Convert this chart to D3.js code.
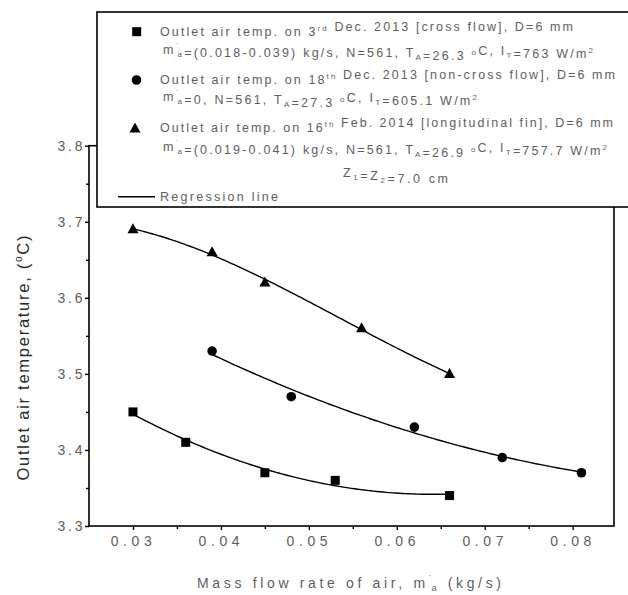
<!DOCTYPE html>
<html>
<head>
<meta charset="utf-8">
<script src="https://cdn.jsdelivr.net/npm/d3@7"></script>
<style>
  html, body { margin: 0; padding: 0; background: #fff; }
  svg { display: block; font-family: "Liberation Sans", Arial, sans-serif; }
</style>
</head>
<body>
<svg id="chart" width="628" height="595"></svg>
<script>
// ---- data ----
const crossX = [0.030, 0.036, 0.045, 0.053, 0.066];
const crossY = [3.45, 3.41, 3.37, 3.36, 3.34];
const nonCrossX = [0.039, 0.048, 0.062, 0.072, 0.081];
const nonCrossY = [3.53, 3.47, 3.43, 3.39, 3.37];
const finX = [0.030, 0.039, 0.045, 0.056, 0.066];
const finY = [3.69, 3.66, 3.62, 3.56, 3.50];
const xTicks = [0.03, 0.04, 0.05, 0.06, 0.07, 0.08];
const xMinorTicks = [0.035, 0.045, 0.055, 0.065, 0.075];
const yTicks = [3.3, 3.4, 3.5, 3.6, 3.7, 3.8];
const yMinorTicks = [3.35, 3.45, 3.55, 3.65, 3.75];
const xTickLabels = ["0.03", "0.04", "0.05", "0.06", "0.07", "0.08"];
const yTickLabels = ["3.3", "3.4", "3.5", "3.6", "3.7", "3.8"];

// ---- layout ----
const svg = d3.select("#chart");
const L = 89, R = 614, T = 145.7, B = 526;
const x = d3.scaleLinear().domain([0.025, 0.0847]).range([L, R]);
const y = d3.scaleLinear().domain([3.3, 3.8]).range([B, T]);
const labelColor = "#5e5e5e";
const FONT = "'Liberation Sans', Arial, sans-serif";

// stretch a text's letter-spacing so its visible width equals `width`
function fitWidth(sel, width) {
  const node = sel.node();
  sel.attr("letter-spacing", 0);
  const L0 = node.getComputedTextLength();
  const n = node.textContent.length;
  const s = n > 1 ? (width - L0) / (n - 1) : 0;
  sel.attr("letter-spacing", s.toFixed(3) + "px");
  return s;
}

// polynomial least squares fit
function polyfit(xs, ys, deg) {
  const mx = d3.mean(xs), sx = d3.deviation(xs);
  const u = xs.map(v => (v - mx) / sx);
  const n = deg + 1;
  const A = Array.from({length: n}, () => new Array(n + 1).fill(0));
  for (let k = 0; k < u.length; k++) {
    for (let i = 0; i < n; i++) {
      for (let j = 0; j < n; j++) A[i][j] += Math.pow(u[k], i + j);
      A[i][n] += ys[k] * Math.pow(u[k], i);
    }
  }
  for (let i = 0; i < n; i++) {
    let p = i;
    for (let r = i + 1; r < n; r++) if (Math.abs(A[r][i]) > Math.abs(A[p][i])) p = r;
    [A[i], A[p]] = [A[p], A[i]];
    for (let r = 0; r < n; r++) {
      if (r === i) continue;
      const f = A[r][i] / A[i][i];
      for (let c = i; c <= n; c++) A[r][c] -= f * A[i][c];
    }
  }
  const coef = A.map((row, i) => row[n] / row[i]);
  return v => { const t = (v - mx) / sx; return coef.reduce((s, c, i) => s + c * Math.pow(t, i), 0); };
}

const series = [
  {xs: crossX, ys: crossY, deg: 2, shape: "square"},
  {xs: nonCrossX, ys: nonCrossY, deg: 2, shape: "circle"},
  {xs: finX, ys: finY, deg: 3, shape: "triangle"}
];

const line = d3.line().x(d => x(d[0])).y(d => y(d[1]));

series.forEach(s => {
  const f = polyfit(s.xs, s.ys, s.deg);
  const x0 = d3.min(s.xs), x1 = d3.max(s.xs);
  const pts = d3.range(0, 101).map(i => { const v = x0 + (x1 - x0) * i / 100; return [v, f(v)]; });
  svg.append("path").attr("d", line(pts)).attr("fill", "none").attr("stroke", "#000").attr("stroke-width", 1.4);
});

function marker(g, shape, cx, cy) {
  if (shape === "square") {
    g.append("rect").attr("x", cx - 4.5).attr("y", cy - 4.5).attr("width", 9).attr("height", 9).attr("fill", "#000");
  } else if (shape === "circle") {
    g.append("circle").attr("cx", cx).attr("cy", cy).attr("r", 4.8).attr("fill", "#000");
  } else {
    g.append("path").attr("d", `M${cx},${cy - 6}L${cx + 5.5},${cy + 4}L${cx - 5.5},${cy + 4}Z`).attr("fill", "#000");
  }
}

series.forEach(s => {
  s.xs.forEach((v, i) => marker(svg, s.shape, x(v), y(s.ys[i])));
});

// ---- axes / frame ----
svg.append("rect").attr("x", L).attr("y", T).attr("width", R - L).attr("height", B - T)
  .attr("fill", "none").attr("stroke", "#000").attr("stroke-width", 1.6);

const xAxis = d3.axisBottom(x).tickValues(xTicks).tickSize(4).tickFormat((d, i) => xTickLabels[i]);
const gx = svg.append("g").attr("transform", `translate(0,${B})`).call(xAxis);
gx.select(".domain").remove();
gx.selectAll(".tick line").attr("stroke", "#000").attr("stroke-width", 1.4);
gx.selectAll(".tick text").attr("fill", labelColor).attr("font-size", 14).attr("letter-spacing", "4.6px")
  .attr("dy", "0.71em").attr("y", 10).style("font-family", FONT);
const xMinor = d3.axisBottom(x).tickValues(xMinorTicks).tickSize(3).tickFormat("");
const gxm = svg.append("g").attr("transform", `translate(0,${B})`).call(xMinor);
gxm.select(".domain").remove();
gxm.selectAll(".tick line").attr("stroke", "#000").attr("stroke-width", 1.4);

const yAxis = d3.axisLeft(y).tickValues(yTicks).tickSize(4).tickFormat((d, i) => yTickLabels[i]);
const gy = svg.append("g").attr("transform", `translate(${L},0)`).call(yAxis);
gy.select(".domain").remove();
gy.selectAll(".tick line").attr("stroke", "#000").attr("stroke-width", 1.4);
gy.selectAll(".tick text").attr("fill", labelColor).attr("font-size", 14).attr("letter-spacing", "2.8px")
  .attr("x", -3.7).style("font-family", FONT);
const yMinor = d3.axisLeft(y).tickValues(yMinorTicks).tickSize(3).tickFormat("");
const gym = svg.append("g").attr("transform", `translate(${L},0)`).call(yMinor);
gym.select(".domain").remove();
gym.selectAll(".tick line").attr("stroke", "#000").attr("stroke-width", 1.4);

// ---- axis titles ----
const xt = svg.append("text").attr("x", 197).attr("y", 588)
  .attr("fill", labelColor).attr("font-size", 14);
xt.append("tspan").text("Mass flow rate of air, m");
xt.append("tspan").attr("font-size", 9).attr("dy", -6).text("˙");
xt.append("tspan").attr("font-size", 9).attr("dy", 9).attr("dx", -4).text("a");
xt.append("tspan").attr("dy", -3).text(" (kg/s)");
fitWidth(xt, 308);

const ytLen = 245, ytCenter = 358;
const yt = svg.append("text").attr("transform", `translate(29,${ytCenter + ytLen / 2}) rotate(-90)`)
  .attr("fill", "#2a2a2a").attr("font-size", 16.5);
yt.append("tspan").text("Outlet air temperature, (");
yt.append("tspan").attr("font-size", 10).attr("dy", -7).text("o");
yt.append("tspan").attr("dy", 7).text("C)");
fitWidth(yt, ytLen);

// ---- legend ----
const lg = svg.append("g");
lg.append("rect").attr("x", 97).attr("y", 12).attr("width", 560).attr("height", 195)
  .attr("fill", "#fff").attr("stroke", "#000").attr("stroke-width", 1.6);

const fs = 12.5;
function lt(xp, yp) {
  return lg.append("text").attr("x", xp).attr("y", yp).attr("fill", labelColor).attr("font-size", fs);
}
function sup(t, s) { t.append("tspan").attr("font-size", 8).attr("dy", -5).text(s); t.append("tspan").attr("dy", 5).text(""); }
function sub(t, s) { t.append("tspan").attr("font-size", 8).attr("dy", 3).text(s); t.append("tspan").attr("dy", -3).text(""); }
function mdot(t) {
  t.append("tspan").text("m");
  t.append("tspan").attr("font-size", 8).attr("dy", -5).text("˙");
  t.append("tspan").attr("font-size", 8).attr("dy", 8).attr("dx", -3).text("a");
  t.append("tspan").attr("dy", -3).text("");
}
function rest(t, parts) {
  parts.forEach(p => {
    if (typeof p === "string") t.append("tspan").text(p);
    else if (p.sup) sup(t, p.sup);
    else if (p.sub) sub(t, p.sub);
  });
}

marker(lg, "square", 136.7, 31.7);
let t1 = lt(160, 36); rest(t1, ["Outlet air temp. on 3", {sup: "rd"}, " Dec. 2013 [cross flow], D=6 mm"]);
fitWidth(t1, 573 - 160);
let t2 = lt(163, 54); mdot(t2); rest(t2, ["=(0.018-0.039) kg/s, N=561, T", {sub: "A"}, "=26.3 ", {sup: "o"}, "C, I", {sub: "T"}, "=763 W/m", {sup: "2"}]);
fitWidth(t2, 596 - 163);

marker(lg, "circle", 136.5, 80);
let t3 = lt(160, 84); rest(t3, ["Outlet air temp. on 18", {sup: "th"}, " Dec. 2013 [non-cross flow], D=6 mm"]);
fitWidth(t3, 615 - 160);
let t4 = lt(163, 101); mdot(t4); rest(t4, ["=0, N=561, T", {sub: "A"}, "=27.3 ", {sup: "o"}, "C, I", {sub: "T"}, "=605.1 W/m", {sup: "2"}]);
fitWidth(t4, 480 - 163);

marker(lg, "triangle", 135, 128.5);
let t5 = lt(160, 132); rest(t5, ["Outlet air temp. on 16", {sup: "th"}, " Feb. 2014 [longitudinal fin], D=6 mm"]);
fitWidth(t5, 613 - 160);
let t6 = lt(163, 151); mdot(t6); rest(t6, ["=(0.019-0.041) kg/s, N=561, T", {sub: "A"}, "=26.9 ", {sup: "o"}, "C, I", {sub: "T"}, "=757.7 W/m", {sup: "2"}]);
fitWidth(t6, 610 - 163);
let t7 = lt(343, 177); rest(t7, ["Z", {sub: "1"}, "=Z", {sub: "2"}, "=7.0 cm"]);
fitWidth(t7, 448 - 343);

lg.append("line").attr("x1", 118).attr("x2", 155).attr("y1", 196.7).attr("y2", 196.7)
  .attr("stroke", "#000").attr("stroke-width", 1.4);
let t8 = lt(160, 201).text("Regression line");
fitWidth(t8, 278 - 160);
</script>
</body>
</html>
